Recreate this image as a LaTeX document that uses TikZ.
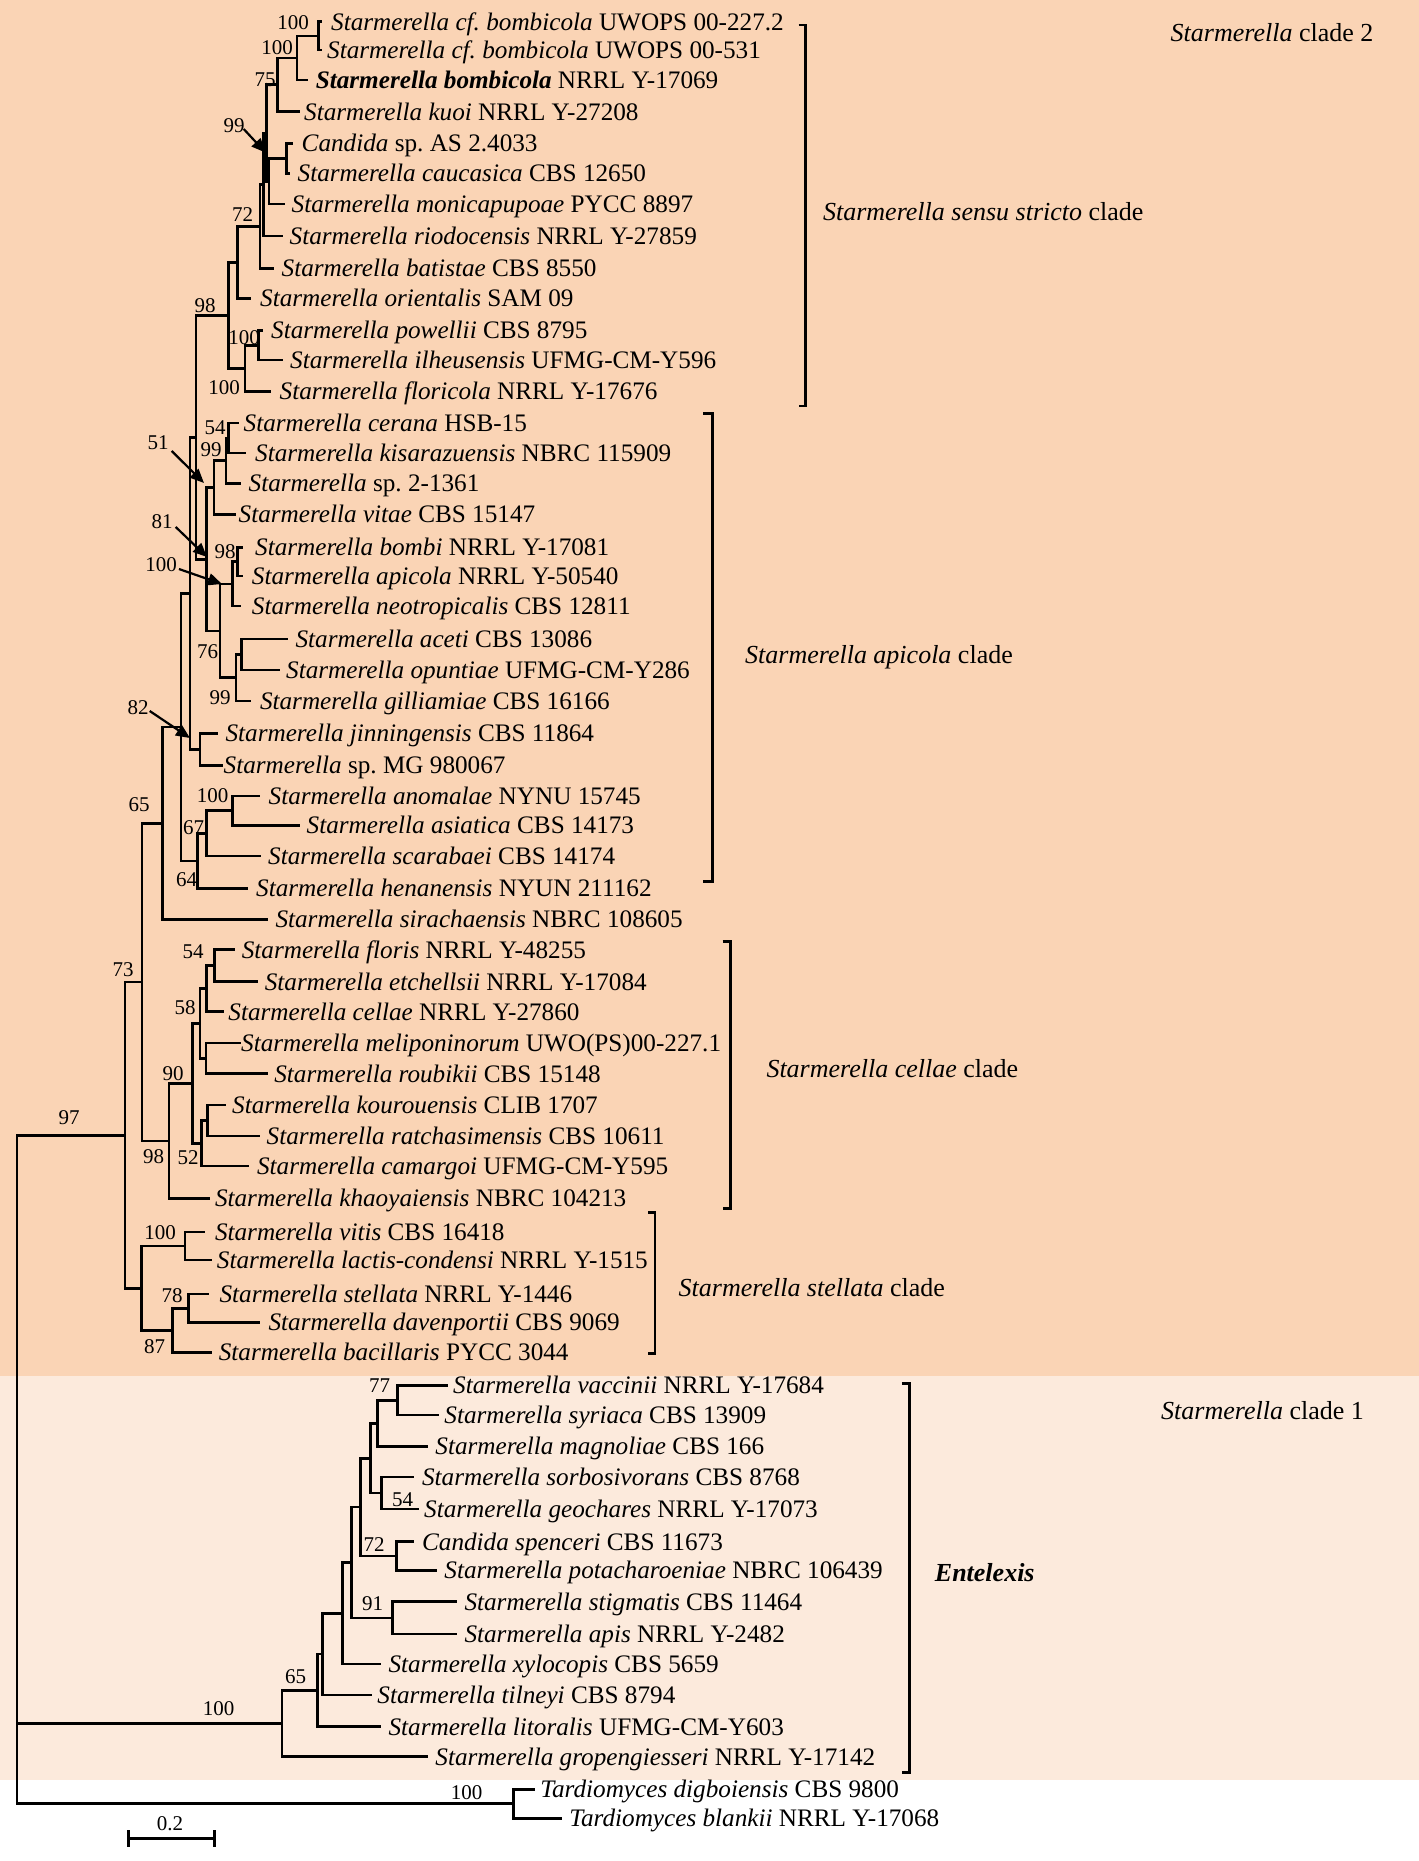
\documentclass[tikz,border=0pt]{standalone}
\usepackage{fontspec}
\setmainfont{Liberation Serif}
\usetikzlibrary{arrows.meta}
\definecolor{cladeA}{RGB}{250,212,181}
\definecolor{cladeB}{RGB}{252,234,220}
\newcommand{\tx}[6]{\coordinate (l#1) at (#3,#2); \node[taxon] (t#1) at (#4,#2) {\textit{#5} #6};}
\newcommand{\kids}[3]{\draw[br] (#1) |- (#2); \draw[br] (#1) |- (#3);}
\newcommand{\bsv}[4]{\node[boot] (#1) at (#2,#3) {#4};}
\begin{document}
\frenchspacing
\begin{tikzpicture}[x=1pt,y=-1pt,
 taxon/.style={anchor=base west, inner sep=0pt, yshift=-8.3pt, font=\fontsize{25.2}{30}\selectfont},
 boot/.style={inner sep=0pt, font=\fontsize{21}{25}\selectfont},
 clab/.style={anchor=base west, inner sep=0pt, yshift=-8.6pt, font=\fontsize{26}{31}\selectfont},
 br/.style={line width=2.7pt, line cap=rect},
 brk/.style={line width=2.6pt},
 arr/.style={line width=2.2pt, -{Triangle[length=14pt,width=12pt]}}]
\useasboundingbox (0,0) rectangle (1419,1861);
\fill[white] (0,0) rectangle (1419,1861);
\fill[cladeA] (0,0) rectangle (1419,1376);
\fill[cladeB] (0,1376) rectangle (1419,1780);

% taxa
\tx{1}{21.7}{321}{331}{Starmerella cf. bombicola}{UWOPS 00-227.2}
\tx{2}{50}{321}{327}{Starmerella cf. bombicola}{UWOPS 00-531}
\tx{3}{80}{307}{315.6}{\bfseries Starmerella bombicola}{NRRL Y-17069}
\tx{4}{111.7}{298.4}{304}{Starmerella kuoi}{NRRL Y-27208}
\tx{5}{143.6}{292}{301.5}{Candida}{sp. AS 2.4033}
\tx{6}{173.2}{289}{297.5}{Starmerella caucasica}{CBS 12650}
\tx{7}{204}{283.3}{291.5}{Starmerella monicapupoae}{PYCC 8897}
\tx{8}{236}{281.7}{289.5}{Starmerella riodocensis}{NRRL Y-27859}
\tx{9}{268.3}{273}{281.5}{Starmerella batistae}{CBS 8550}
\tx{10}{298.5}{250}{260}{Starmerella orientalis}{SAM 09}
\tx{11}{330.5}{261.7}{271}{Starmerella powellii}{CBS 8795}
\tx{12}{360}{281.7}{290}{Starmerella ilheusensis}{UFMG-CM-Y596}
\tx{13}{391.5}{270}{279.5}{Starmerella floricola}{NRRL Y-17676}
\tx{14}{423}{238}{243.5}{Starmerella cerana}{HSB-15}
\tx{15}{453}{245}{255}{Starmerella kisarazuensis}{NBRC 115909}
\tx{16}{483.3}{240}{248.5}{Starmerella}{sp. 2-1361}
\tx{17}{514.5}{235}{238.5}{Starmerella vitae}{CBS 15147}
\tx{18}{547.5}{241.7}{255}{Starmerella bombi}{NRRL Y-17081}
\tx{19}{576}{241.7}{251.7}{Starmerella apicola}{NRRL Y-50540}
\tx{20}{606}{240}{251.7}{Starmerella neotropicalis}{CBS 12811}
\tx{21}{639}{286.7}{295.4}{Starmerella aceti}{CBS 13086}
\tx{22}{670}{278.3}{286}{Starmerella opuntiae}{UFMG-CM-Y286}
\tx{23}{701}{250}{259.8}{Starmerella gilliamiae}{CBS 16166}
\tx{24}{733.3}{216.7}{225.4}{Starmerella jinningensis}{CBS 11864}
\tx{25}{765.5}{222}{223.5}{Starmerella}{sp. MG 980067}
\tx{26}{796}{258.3}{268.5}{Starmerella anomalae}{NYNU 15745}
\tx{27}{825.5}{298.3}{306.5}{Starmerella asiatica}{CBS 14173}
\tx{28}{856}{260}{268}{Starmerella scarabaei}{CBS 14174}
\tx{29}{888.3}{246.7}{256}{Starmerella henanensis}{NYUN 211162}
\tx{30}{919.5}{266.7}{275.3}{Starmerella sirachaensis}{NBRC 108605}
\tx{31}{949.7}{234}{241.6}{Starmerella floris}{NRRL Y-48255}
\tx{32}{981.7}{256.9}{264.6}{Starmerella etchellsii}{NRRL Y-17084}
\tx{33}{1011.7}{222.5}{228.2}{Starmerella cellae}{NRRL Y-27860}
\tx{34}{1043}{240}{241}{Starmerella meliponinorum}{UWO(PS)00-227.1}
\tx{35}{1073.7}{266.5}{274.1}{Starmerella roubikii}{CBS 15148}
\tx{36}{1105}{224.4}{232}{Starmerella kourouensis}{CLIB 1707}
\tx{37}{1136}{258.8}{266.5}{Starmerella ratchasimensis}{CBS 10611}
\tx{38}{1166}{247.3}{256.9}{Starmerella camargoi}{UFMG-CM-Y595}
\tx{39}{1198.3}{209}{214.8}{Starmerella khaoyaiensis}{NBRC 104213}
\tx{40}{1232}{204}{214.8}{Starmerella vitis}{CBS 16418}
\tx{41}{1260}{211}{216.7}{Starmerella lactis-condensi}{NRRL Y-1515}
\tx{42}{1294}{208}{219.4}{Starmerella stellata}{NRRL Y-1446}
\tx{43}{1322.5}{258.8}{268.4}{Starmerella davenportii}{CBS 9069}
\tx{44}{1352.5}{211}{218.6}{Starmerella bacillaris}{PYCC 3044}
\tx{45}{1385.5}{446.4}{453}{Starmerella vaccinii}{NRRL Y-17684}
\tx{46}{1415}{437.5}{444.2}{Starmerella syriaca}{CBS 13909}
\tx{47}{1446.3}{426.3}{435.2}{Starmerella magnoliae}{CBS 166}
\tx{48}{1477}{412.9}{421.9}{Starmerella sorbosivorans}{CBS 8768}
\tx{49}{1509}{417.4}{424}{Starmerella geochares}{NRRL Y-17073}
\tx{50}{1541.7}{412.9}{421.9}{Candida spenceri}{CBS 11673}
\tx{51}{1570.3}{435.2}{444.2}{Starmerella potacharoeniae}{NBRC 106439}
\tx{52}{1601.7}{455.3}{464.3}{Starmerella stigmatis}{CBS 11464}
\tx{53}{1634}{455.3}{464.3}{Starmerella apis}{NRRL Y-2482}
\tx{54}{1664}{379.4}{388.4}{Starmerella xylocopis}{CBS 5659}
\tx{55}{1695}{370.5}{377.2}{Starmerella tilneyi}{CBS 8794}
\tx{56}{1726.7}{379.4}{388.4}{Starmerella litoralis}{UFMG-CM-Y603}
\tx{57}{1756.7}{426.3}{435.2}{Starmerella gropengiesseri}{NRRL Y-17142}
\tx{58}{1789.3}{533.4}{540.2}{Tardiomyces digboiensis}{CBS 9800}
\tx{59}{1818.3}{560.3}{569.2}{Tardiomyces blankii}{NRRL Y-17068}

% internal nodes
\coordinate (nA) at (318.7,35.85);
\coordinate (nB) at (296.9,57.9);
\coordinate (nC) at (277.3,84.8);
\coordinate (nE) at (286.7,158.4);
\coordinate (nM) at (269,181.2);
\coordinate (nK) at (266.5,133);
\coordinate (nL) at (263.5,184.5);
\coordinate (nH) at (260,226.4);
\coordinate (nOr) at (237.3,262.45);
\coordinate (nP) at (258.3,345.25);
\coordinate (nQ) at (245,368.4);
\coordinate (nSS) at (228.3,315.4);
\coordinate (n54) at (228.5,438);
\coordinate (n99a) at (226,460.7);
\coordinate (n51) at (214,487.6);
\coordinate (n98) at (237.5,561.8);
\coordinate (n100b) at (232.7,583.9);
\coordinate (nAO) at (241.7,654.5);
\coordinate (n99b) at (236,677.8);
\coordinate (n76) at (220,630.9);
\coordinate (n81) at (206.7,559.3);
\coordinate (nA2) at (196,437.3);
\coordinate (nJM) at (200,749.4);
\coordinate (nB2) at (190,593.3);
\coordinate (n100e) at (232.7,810.75);
\coordinate (n67) at (206.7,833.4);
\coordinate (n64) at (197.7,860.9);
\coordinate (nC2) at (181,727.1);
\coordinate (n65) at (162.7,823.3);
\coordinate (n54b) at (214.8,965.8);
\coordinate (n58) at (206.4,988.7);
\coordinate (nMR) at (206,1058.35);
\coordinate (nX) at (200,1023.5);
\coordinate (nKR) at (207.2,1120.5);
\coordinate (n52) at (201.4,1143.25);
\coordinate (nY) at (192.6,1083.4);
\coordinate (n98c) at (168.9,1140.85);
\coordinate (nD) at (142.1,982.1);
\coordinate (n100f) at (185,1246);
\coordinate (n78) at (188.8,1308.25);
\coordinate (n87) at (172.7,1330.4);
\coordinate (nST) at (141.3,1288.2);
\coordinate (n97) at (125,1135.2);
\coordinate (n77) at (397.3,1400.25);
\coordinate (nVM) at (377.2,1423.3);
\coordinate (n54g) at (381.7,1493);
\coordinate (nQ2) at (370.5,1458.15);
\coordinate (n72s) at (396.4,1556);
\coordinate (nR) at (360.7,1507.1);
\coordinate (n91) at (392.8,1617.85);
\coordinate (nS) at (351.8,1562.5);
\coordinate (nT) at (342.8,1613.25);
\coordinate (nU) at (322.3,1654.1);
\coordinate (nV) at (317.8,1690.4);
\coordinate (n65e) at (282.1,1723.55);
\coordinate (nTd) at (513.4,1803.8);
\coordinate (root) at (17,1469.5);

% edges
\kids{nA}{l1}{l2}
\kids{nB}{nA}{l3}
\kids{nC}{nB}{l4}
\kids{nE}{l5}{l6}
\kids{nM}{nE}{l7}
\kids{nK}{nC}{nM}
\kids{nL}{nK}{l8}
\kids{nH}{nL}{l9}
\kids{nOr}{nH}{l10}
\kids{nP}{l11}{l12}
\kids{nQ}{nP}{l13}
\kids{nSS}{nOr}{nQ}
\kids{n54}{l14}{l15}
\kids{n99a}{n54}{l16}
\kids{n51}{n99a}{l17}
\kids{n98}{l18}{l19}
\kids{n100b}{n98}{l20}
\kids{nAO}{l21}{l22}
\kids{n99b}{nAO}{l23}
\kids{n76}{n100b}{n99b}
\kids{n81}{n51}{n76}
\kids{nA2}{nSS}{n81}
\kids{nJM}{l24}{l25}
\kids{nB2}{nA2}{nJM}
\kids{n100e}{l26}{l27}
\kids{n67}{n100e}{l28}
\kids{n64}{n67}{l29}
\kids{nC2}{nB2}{n64}
\kids{n65}{nC2}{l30}
\kids{n54b}{l31}{l32}
\kids{n58}{n54b}{l33}
\kids{nMR}{l34}{l35}
\kids{nX}{n58}{nMR}
\kids{nKR}{l36}{l37}
\kids{n52}{nKR}{l38}
\kids{nY}{nX}{n52}
\kids{n98c}{nY}{l39}
\kids{nD}{n65}{n98c}
\kids{n100f}{l40}{l41}
\kids{n78}{l42}{l43}
\kids{n87}{n78}{l44}
\kids{nST}{n100f}{n87}
\kids{n97}{nD}{nST}
\kids{n77}{l45}{l46}
\kids{nVM}{n77}{l47}
\kids{n54g}{l48}{l49}
\kids{nQ2}{nVM}{n54g}
\kids{n72s}{l50}{l51}
\kids{nR}{nQ2}{n72s}
\kids{n91}{l52}{l53}
\kids{nS}{nR}{n91}
\kids{nT}{nS}{l54}
\kids{nU}{nT}{l55}
\kids{nV}{nU}{l56}
\kids{n65e}{nV}{l57}
\kids{nTd}{l58}{l59}
\draw[br] (root) |- (n97);
\draw[br] (root) |- (n65e);
\draw[br] (root) |- (nTd);

% bootstrap values
\bsv{b1}{293}{22.7}{100}
\bsv{b2}{277}{48}{100}
\bsv{b3}{265}{79.5}{75}
\bsv{b4}{234}{126}{99}
\bsv{b5}{242.5}{215}{72}
\bsv{b6}{205}{306}{98}
\bsv{b7}{244}{338}{100}
\bsv{b8}{224}{388}{100}
\bsv{b9}{215}{427.5}{54}
\bsv{b10}{211}{450}{99}
\bsv{b11}{158}{443}{51}
\bsv{b12}{162}{522}{81}
\bsv{b13}{225}{551.5}{98}
\bsv{b14}{161}{565}{100}
\bsv{b15}{207.5}{651.5}{76}
\bsv{b16}{220}{698}{99}
\bsv{b17}{138}{708}{82}
\bsv{b18}{212.5}{796}{100}
\bsv{b19}{193.5}{828}{67}
\bsv{b20}{186.7}{880}{64}
\bsv{b21}{139}{805}{65}
\bsv{b22}{123}{970}{73}
\bsv{b23}{193}{951.5}{54}
\bsv{b24}{185}{1008}{58}
\bsv{b25}{173}{1074}{90}
\bsv{b26}{153.5}{1157}{98}
\bsv{b27}{188}{1158}{52}
\bsv{b28}{69}{1118}{97}
\bsv{b29}{160}{1232.5}{100}
\bsv{b30}{172}{1295.5}{78}
\bsv{b31}{154.5}{1346.5}{87}
\bsv{b32}{379.5}{1386}{77}
\bsv{b33}{402.5}{1500}{54}
\bsv{b34}{374}{1545}{72}
\bsv{b35}{372.7}{1604}{91}
\bsv{b36}{295.7}{1676.7}{65}
\bsv{b37}{218.5}{1708.5}{100}
\bsv{b38}{466.5}{1792.5}{100}

% pointer arrows
\coordinate (p4) at (265.5,152.5);
\coordinate (p11) at (204,483);
\coordinate (p12) at (207,557);
\coordinate (p14) at (222,584);
\coordinate (p17) at (190,738);
\draw[arr] ([xshift=-1pt,yshift=-3pt]b4.east) -- (p4);
\draw[arr] ([xshift=3pt,yshift=-8pt]b11.east) -- (p11);
\draw[arr] ([xshift=3pt,yshift=-5pt]b12.east) -- (p12);
\draw[arr] ([xshift=2pt,yshift=-4pt]b14.east) -- (p14);
\draw[arr] ([xshift=1pt,yshift=-3pt]b17.east) -- (p17);

% clade brackets
\draw[brk] (798.6,25) -- (805.5,25) -- (805.5,406) -- (798.6,406);
\draw[brk] (703.4,413.3) -- (712.3,413.3) -- (712.3,881.7) -- (703.4,881.7);
\draw[brk] (722.7,941.7) -- (730.6,941.7) -- (730.6,1208.3) -- (722.7,1208.3);
\draw[brk] (648,1212.7) -- (654.8,1212.7) -- (654.8,1353.3) -- (648,1353.3);
\draw[brk] (901.9,1383.3) -- (909.2,1383.3) -- (909.2,1772.7) -- (901.9,1772.7);

% clade labels
\node[clab] (cl2) at (1170.5,33.3) {\textit{Starmerella} clade 2};
\node[clab] (css) at (822.9,211.5) {\textit{Starmerella sensu stricto} clade};
\node[clab] (cap) at (745,654.5) {\textit{Starmerella apicola} clade};
\node[clab] (cce) at (766.3,1069) {\textit{Starmerella cellae} clade};
\node[clab] (cst) at (678.5,1288) {\textit{Starmerella stellata} clade};
\node[clab] (cen) at (934.7,1572.5) {\textbf{\textit{Entelexis}}};
\node[clab] (cl1) at (1161,1411) {\textit{Starmerella} clade 1};

% scale bar
\coordinate (sb1) at (128.6,1838.3);
\coordinate (sb2) at (214.3,1838.3);
\draw[brk] (sb1) -- (sb2);
\draw[brk] ([yshift=8.3pt]sb1) -- ([yshift=-8.4pt]sb1);
\draw[brk] ([yshift=8.3pt]sb2) -- ([yshift=-8.4pt]sb2);
\node[boot] (sbl) at (170,1824) {0.2};
\end{tikzpicture}
\end{document}
